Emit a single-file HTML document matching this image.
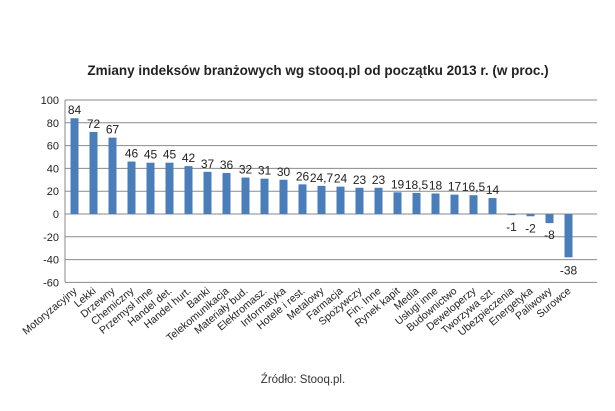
<!DOCTYPE html>
<html><head><meta charset="utf-8"><style>
html,body{margin:0;padding:0;background:#fff;}
svg{display:block;font-family:"Liberation Sans",sans-serif;}
</style></head><body>
<svg id="c" width="615" height="411">
<text x="318" y="75" text-anchor="middle" font-size="13.5" font-weight="bold" fill="#222">Zmiany indeksów branżowych wg stooq.pl od początku 2013 r. (w proc.)</text>
<text x="303" y="383" text-anchor="middle" font-size="11.5" fill="#333">Źródło: Stooq.pl.</text>
</svg>
<script>
const categories=["Motoryzacyjny","Lekki","Drzewny","Chemiczny","Przemysł inne","Handel det.","Handel hurt.","Banki","Telekomunikacja","Materiały bud.","Elektromasz.","Informatyka","Hotele i rest.","Metalowy","Farmacja","Spożywczy","Fin. Inne","Rynek kapit","Media","Usługi inne","Budownictwo","Deweloperzy","Tworzywa szt.","Ubezpieczenia","Energetyka","Paliwowy","Surowce"];
const values=[84,72,67,46,45,45,42,37,36,32,31,30,26,24.7,24,23,23,19,18.5,18,17,16.5,14,-1,-2,-8,-38];
const ticks=[100,80,60,40,20,0,-20,-40,-60];
const svg=document.getElementById('c');
const NS='http://www.w3.org/2000/svg';
const X0=65,X1=597,Y0=214,K=1.14;
const y=v=>Y0-v*K;
const step=(X1-X0)/28;
const x=i=>X0+step*(i+0.5);
function mk(t,a){const e=document.createElementNS(NS,t);for(const k in a)e.setAttribute(k,a[k]);svg.appendChild(e);return e;}
ticks.forEach(t=>{
 const g=mk('line',{x1:X0,x2:X1,y1:y(t),y2:y(t),stroke:'#8a8a8a','stroke-width':1});
 
 
 const l=mk('text',{x:X0-6,y:y(t)+4,'text-anchor':'end','font-size':11,fill:'#222'});
 l.textContent=t;
 
 
});
const ax=mk('line',{x1:X0,x2:X0,y1:y(100),y2:y(-60),stroke:'#8a8a8a'});


values.forEach((v,i)=>{
 const cx=x(i),bw=8;
 const b=mk('rect',{x:cx-bw/2,y:Math.min(y(v),Y0),width:bw,height:Math.max(Math.abs(y(v)-Y0),1),fill:'#4a7ebb'});
 
 
 const vt=mk('text',{x:cx,y:v>=0?y(v)-4:(v<-20?y(v)+17:y(v)+16),'text-anchor':'middle','font-size':12,fill:'#222'});
 vt.textContent=String(v).replace('.',',');
 
 
 const ct=mk('text',{x:cx+3,y:292,'text-anchor':'end','font-size':10.5,fill:'#222',transform:`rotate(-40 ${cx+3} 292)`});
 ct.textContent=categories[i];
 
 
});
</script>
</body></html>
